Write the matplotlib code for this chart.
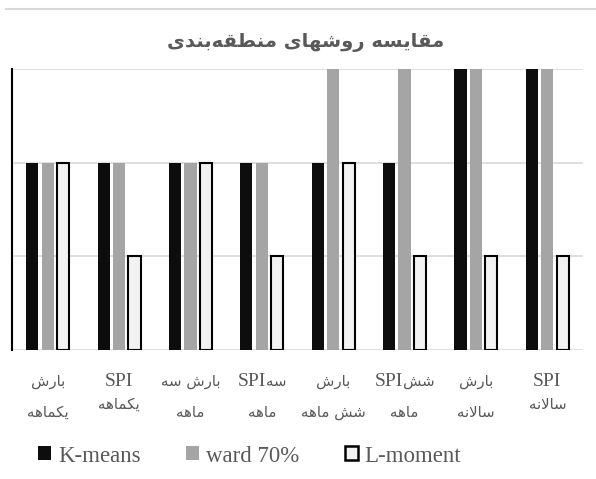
import matplotlib
matplotlib.use("Agg")
import matplotlib.pyplot as plt
from matplotlib.patches import Patch
from matplotlib.lines import Line2D
import numpy as np

# category labels (logical order, one list entry per line)
labels = [["بارش", "یکماهه"], ["SPI", "یکماهه"], ["بارش سه", "ماهه"], ["SPIسه", "ماهه"],
          ["بارش", "شش ماهه"], ["SPIشش", "ماهه"], ["بارش", "سالانه"], ["SPI", "سالانه"]]
kmeans = [2, 2, 2, 2, 2, 2, 3, 3]
ward = [2, 2, 2, 2, 3, 3, 3, 3]
lmoment = [2, 1, 2, 1, 2, 1, 1, 1]
series_names = ["K-means", "ward 70%", "L-moment"]
title = "مقایسه روشهای منطقه\u200cبندی"

# arabic presentation forms: isolated, final, initial, medial
FORMS = {
    "ا": (0xFE8D, 0xFE8E), "د": (0xFEA9, 0xFEAA), "ر": (0xFEAD, 0xFEAE), "و": (0xFEED, 0xFEEE),
    "ب": (0xFE8F, 0xFE90, 0xFE91, 0xFE92), "س": (0xFEB1, 0xFEB2, 0xFEB3, 0xFEB4),
    "ش": (0xFEB5, 0xFEB6, 0xFEB7, 0xFEB8), "ط": (0xFEC1, 0xFEC2, 0xFEC3, 0xFEC4),
    "ق": (0xFED5, 0xFED6, 0xFED7, 0xFED8), "ک": (0xFED9, 0xFEDA, 0xFEDB, 0xFEDC),
    "ل": (0xFEDD, 0xFEDE, 0xFEDF, 0xFEE0), "م": (0xFEE1, 0xFEE2, 0xFEE3, 0xFEE4),
    "ن": (0xFEE5, 0xFEE6, 0xFEE7, 0xFEE8), "ه": (0xFEE9, 0xFEEA, 0xFEEB, 0xFEEC),
    "ی": (0xFEEF, 0xFEF0, 0xFEF3, 0xFEF4),
}


def joins_fwd(c):
    return c in FORMS and len(FORMS[c]) == 4


def rtl(word):
    # shape letters and return them in visual (left to right) order
    out = []
    i, n = 0, len(word)
    while i < n:
        c = word[i]
        if c not in FORMS:
            if c != "\u200c":
                out.append(c)
            i += 1
            continue
        after = i > 0 and joins_fwd(word[i - 1])
        if c == "ل" and i + 1 < n and word[i + 1] == "ا":
            out.append(chr(0xFEFC if after else 0xFEFB))
            i += 2
            continue
        before = joins_fwd(c) and i + 1 < n and word[i + 1] in FORMS
        f = FORMS[c]
        if after and before:
            g = f[3]
        elif after:
            g = f[1]
        elif before:
            g = f[2]
        else:
            g = f[0]
        out.append(chr(g))
        i += 1
    return "".join(reversed(out))


def runs(line):
    parts = []
    for ch in line:
        kind = "lat" if ch.isascii() and ch.isalnum() else "ar"
        if ch == " " and parts:
            kind = parts[-1][1]
        if parts and parts[-1][1] == kind:
            parts[-1][0] += ch
        else:
            parts.append([ch, kind])
    return [(rtl(s) if k == "ar" else s, k) for s, k in parts]


W, H = 596, 479
fig = plt.figure(figsize=(W / 100, H / 100), dpi=100)
ax = fig.add_axes([12 / W, 1 - 350 / H, (583 - 12) / W, (350 - 69) / H])

x = np.arange(len(labels))
bw, off = 0.17, 0.217
ax.bar(x - off, kmeans, bw, color="#0d0d0d", zorder=3)
ax.bar(x, ward, bw, color="#a5a5a5", zorder=3)
ax.bar(x + off, lmoment, bw, color="#f2f2f2", edgecolor="black", linewidth=1.5, zorder=3)

ax.set_xlim(-0.5, len(labels) - 0.5)
ax.set_ylim(0, 3)
ax.set_yticks([0, 1, 2, 3])
ax.yaxis.grid(True, color="#d9d9d9", linewidth=1.2, zorder=0)
ax.tick_params(left=False, bottom=False, labelleft=False, labelbottom=False)
for s in ["top", "right", "bottom"]:
    ax.spines[s].set_visible(False)
ax.spines["left"].set_color("black")
ax.spines["left"].set_linewidth(1.5)
ax.spines["left"].set_zorder(4)

# chart border remnant at top
fig.add_artist(Line2D([6 / W, 1], [1 - 9 / H] * 2, transform=fig.transFigure,
                      color="#d9d9d9", linewidth=1.5))

fig.text(306 / W, 1 - 43 / H, rtl(title), ha="center", va="center", fontsize=14,
         fontweight="bold", color="#595959", family="DejaVu Sans")

# category labels, drawn line by line so latin and persian can differ in size
fonts = {"lat": dict(family="Liberation Serif", fontsize=14),
         "ar": dict(family="DejaVu Sans", fontsize=10.8)}
fig.canvas.draw()
renderer = fig.canvas.get_renderer()
for i, lines in enumerate(labels):
    cx = ax.transData.transform((x[i], 0))[0]
    base = 386
    for line in lines:
        segs = runs(line)
        texts = [fig.text(0, 0, s, color="#595959", va="baseline", ha="left", **fonts[k])
                 for s, k in segs]
        widths = [t.get_window_extent(renderer).width for t in texts]
        start = cx - sum(widths) / 2
        for t, w in zip(texts, widths):
            t.set_position((start / W, 1 - base / H))
            start += w
        base += 23 if all(k == "lat" for _, k in segs) else 31

handles = [Patch(facecolor="#0d0d0d"), Patch(facecolor="#a5a5a5"),
           Patch(facecolor="#f2f2f2", edgecolor="black", linewidth=1.8)]
fig.legend(handles, series_names, loc="center left", bbox_to_anchor=(27 / W, 1 - 456 / H),
           ncol=3, frameon=False, borderpad=0, handlelength=0.55, handleheight=0.55,
           handletextpad=0.3, columnspacing=2.0,
           prop=dict(family="Liberation Serif", size=16.5), labelcolor="#595959")

fig.savefig("out.png", dpi=100)
